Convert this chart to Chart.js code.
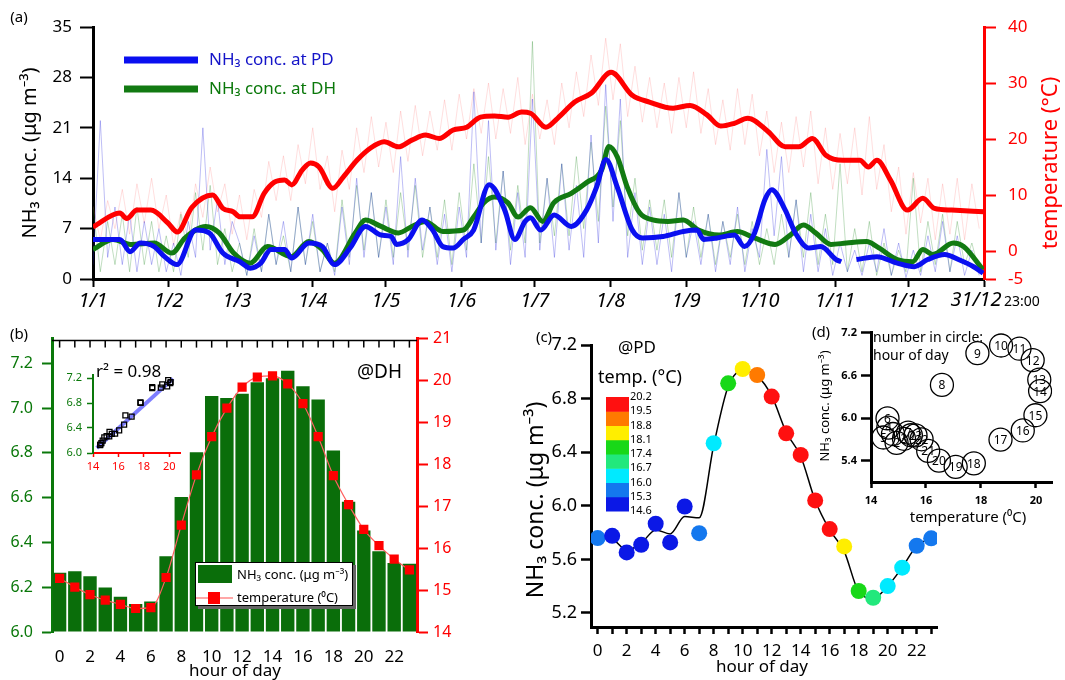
<!DOCTYPE html>
<html>
<head>
<meta charset="utf-8">
<script src="https://cdn.jsdelivr.net/npm/chart.js@4"></script>
<style>
body { margin:0; background:#fff; width:1065px; height:680px; position:relative; overflow:hidden; }
canvas { position:absolute; }
</style>
</head>
<body>
<canvas id="chA" width="1065" height="315" style="left:0;top:0"></canvas>
<canvas id="chB" width="470" height="360" style="left:0;top:320px"></canvas>
<canvas id="chI" width="140" height="115" style="left:55px;top:360px"></canvas>
<canvas id="chC" width="425" height="360" style="left:520px;top:320px"></canvas>
<canvas id="chD" width="265" height="210" style="left:800px;top:320px"></canvas>
<script>
// ---- panel (a): yearly series, x = day of year ----
var monthStart = [0, 31, 59, 90, 120, 151, 181, 212, 243, 273, 304, 334, 364.96];
var monthLabels = ['1/1','1/2','1/3','1/4','1/5','1/6','1/7','1/8','1/9','1/10','1/11','1/12','31/12'];

var tempDays = [0,11,13.8,18,23.7,30.7,34.5,40.5,49,53.2,57.4,60.2,65.2,70.1,74.3,78.5,81.4,85.6,89.1,92.6,
  98.2,102.5,108.1,113.7,119.3,125,130.6,136.2,141.8,147.5,153.1,158.7,164.4,170,175.6,179.2,185.5,190.3,197.3,204.2,
  212.2,220.9,227.9,237.6,244.6,251.5,257.1,262.7,268.2,276.6,283.5,289.1,294.7,300.2,307.2,314.1,317.6,321.1,326.6,333.6,
  339.9,344.7,351.7,364.9];
var tempSmooth = [4.3,6.8,5.8,7.3,7.3,5,3.4,7.8,10,7.6,7,6.1,6.1,10.3,12.3,12.7,11.8,14.4,15.7,15,
  11.2,13.2,16.2,18.4,19.5,18.6,19.8,20.7,20.1,21.6,22.1,23.9,24.1,23.9,24.8,24.6,22.1,23.7,26.6,28.2,
  31.9,27.8,26.6,25.5,26,24.3,22.3,22.8,23.7,21.3,18.6,18.6,20.1,17.1,16.2,16.2,15,16.2,12.7,7.3,
  9.4,7.6,7.3,7];

var pdDays = [0,11,15.2,19.4,25.1,29.3,34.4,42,47.6,53.2,60.2,64.5,68.7,72.9,78.5,81.4,88.4,94,98.9,105.3,
  111.6,118,122.2,124.3,129.2,134.8,139.1,143.3,147.5,151.7,155.9,162.3,168.6,172.8,177,179.2,183.4,188.9,195.9,202.2,
  206.3,210.1,214.7,220.9,225.1,233.5,241.8,247.4,250.1,255.7,262.7,266.8,271,275.2,278,283.5,287.7,293.3,298.1,304.4,
  306.5,309,312.7,321.1,329.4,336.4,341.9,348.9,354.5,360.7,364.6];
var pdSmooth = [5.5,5.5,3.8,5,4.5,3.1,2,6.8,6.4,3.6,2.4,1.5,2.2,4.1,4.1,2.9,5,4.5,2,4.3,
  7.3,6.1,5.9,4.8,5.5,8.2,6.8,4.5,4.3,5.5,6.8,13.1,9.6,5.5,8,8.5,6.8,8.9,7.3,9.6,
  12.8,16.6,12.8,6.8,5.7,5.9,6.6,6.8,5.5,5.7,6.1,4.5,6.4,11,12.4,9.6,6.4,4.3,4.5,2.7,
  2.4,null,2.7,3.1,2.2,1.7,2.7,3.4,2.7,1.7,0.8];

var dhDays = [0,8.2,15.4,25.1,32.3,37.7,46.2,51.7,57.6,64.3,71.5,81.2,88.4,93.9,98.9,107.4,111.6,118,125.1,130.6,
  136.1,143.3,151.7,155.9,160.1,164.4,169.9,174.1,179.2,184.2,188.8,195.9,202.2,208.4,211.3,214.7,218.8,223.9,229.3,235.5,
  241.8,248,256.4,263.9,271,279.4,285.6,291,296,302.3,308.6,316.9,321.1,329.4,335.7,339.9,344,352.4,356.6,364.5];
var dhSmooth = [4.1,5.5,4.8,5,3.6,5.7,7.3,6.4,3.6,2.2,4.5,3.1,5.2,4.1,2.2,6.4,8.2,7.3,6.4,7.3,
  8,6.6,6.8,8.6,10.6,11.4,10.6,8.6,9.9,8,10.6,11.9,13.4,15.2,18.4,17,12.8,9.2,8.2,8,
  8.2,6.8,6.1,6.6,5.7,4.8,6.1,7.5,6.4,4.8,5,5.2,4.5,2.7,2.4,4.1,3.4,5,4.5,1.3];

// hourly raw traces, one value every RAW_STEP days
var RAW_STEP = 3;
var tempRaw = [8,2,9,4,11,3,12,5,13,4, 10,1,7,2,12,6,15,7,12,3, 10,2,11,6,16,9,17,9,19,12,
  22,11,17,7,18,11,22,14,24,15, 23,14,25,16,26,17,25,18,27,18, 28,20,29,21,30,20,29,21,31,19,
  28,20,27,19,30,22,32,24,35,26, 38,27,37,24,33,23,31,22,30,21, 31,22,32,21,29,19,27,18,29,19,
  28,17,25,14,23,14,24,15,25,12, 22,11,21,12,22,10,24,11,19,7, 15,3,14,5,13,2,12,3,13,2, 12,4];
var pdRaw = [2,22,3,10,2,9,1,8,2,7, 1,5,0.5,8,3,21,4,11,2,8, 5,0.5,6,1,9,2,8,1,10,2,
  9,1,5,0.5,10,2,14,3,12,3, 10,2,17,3,14,4,10,2,9,1, 10,3,26,5,22,4,15,2,12,3,
  25,4,14,3,16,4,13,3,20,5, 27,8,25,3,12,2,10,2,9,1, 12,3,8,2,9,1,8,2,10,1,
  7,3,18,6,17,3,11,1,9,1, 7,0.5,5,1,4,0.5,5,1,7,0.5, 5,0.2,4,0.5,6,1,8,1,6,0.5, 4,0.5];
var dhRaw = [10,1,8,2,9,1,10,2,8,1, 6,1,9,3,12,4,13,2,7,1, 5,0.5,7,1,9,2,6,1,10,2,
  8,1,5,1,11,3,13,4,12,3, 11,3,12,4,13,3,10,3,11,2, 12,4,16,5,17,5,15,4,13,5,
  33,5,14,6,16,6,17,7,19,8, 24,10,22,6,14,4,11,4,11,3, 12,3,10,3,9,2,8,3,9,2,
  8,2,7,2,9,3,11,3,12,2, 9,2,16,1,7,1,8,0.5,5,0.5, 4,1,14,1,8,2,9,1,8,2, 5,1];

// ---- panel (b): diurnal cycle at DH ----
var hours = [0,1,2,3,4,5,6,7,8,9,10,11,12,13,14,15,16,17,18,19,20,21,22,23];
var dhConc = [6.265,6.271,6.249,6.199,6.158,6.125,6.136,6.338,6.603,6.803,7.054,7.045,
  7.064,7.116,7.134,7.167,7.098,7.039,6.811,6.582,6.453,6.361,6.308,6.305];
var dhTemp = [15.28,15.07,14.89,14.76,14.66,14.56,14.58,15.3,16.55,17.75,18.66,19.34,
  19.84,20.08,20.11,19.92,19.45,18.66,17.73,17.04,16.45,16.06,15.74,15.48];
var fitTemp = [14.3, 20.3];
var fitConc = [6.08, 7.19];

// ---- panels (c) and (d): diurnal cycle at PD ----
var pdHourConc = [5.759,5.776,5.652,5.709,5.866,5.727,5.995,5.796,6.467,6.914,7.021,6.976,
  6.815,6.541,6.38,6.04,5.826,5.697,5.364,5.314,5.401,5.538,5.702,5.757];
var pdHourTemp = [15.45,14.8,14.93,15.2,14.63,14.45,14.6,15.35,16.58,17.87,18.73,19.4,
  19.88,20.12,20.15,19.98,19.52,18.71,17.74,17.08,16.47,16.08,15.84,15.62];
var pdHourCurve = [5.76,5.75,5.67,5.72,5.82,5.79,5.92,5.91,6.45,6.89,7.01,6.97,
  6.82,6.55,6.37,6.04,5.82,5.66,5.36,5.31,5.4,5.54,5.7,5.76];
var cbEdges = [14.6,15.3,16.0,16.7,17.4,18.1,18.8,19.5,20.2];
var cbColors = ['#0b18e6','#1478ee','#00eaff','#22e87c','#18d818','#ffee00','#ff7a00','#ff1010'];

var FF = "'Noto Sans', 'DejaVu Sans', sans-serif";
Chart.defaults.font.family = FF;
Chart.defaults.color = '#000';

function xy(xs, ys) {
  return xs.map(function(x, i) { return {x: x, y: ys[i]}; });
}
function rawXY(vals) {
  return vals.map(function(v, i) { return {x: i * RAW_STEP, y: v}; });
}
function fixW(w) { return function(s) { s.width = w; }; }
function fixH(h) { return function(s) { s.height = h; }; }
function setTicks(list) { return function(s) { s.ticks = list.map(function(v) { return {value: v}; }); }; }
function tempColor(t) {
  for (var i = 0; i < cbColors.length; i++) if (t < cbEdges[i + 1]) return cbColors[i];
  return cbColors[cbColors.length - 1];
}
function txt(g, s, x, y, o) {
  g.save();
  g.font = o.font;
  g.fillStyle = o.color || '#000';
  g.textAlign = o.align || 'left';
  g.textBaseline = 'middle';
  g.translate(x, y);
  if (o.rot) g.rotate(o.rot);
  g.fillText(s, 0, 0);
  g.restore();
}
function line(g, x1, y1, x2, y2, col, w) {
  g.save(); g.strokeStyle = col; g.lineWidth = w;
  g.beginPath(); g.moveTo(x1, y1); g.lineTo(x2, y2); g.stroke(); g.restore();
}
var NH3 = 'NH\u2083 conc. (\u03bcg m\u207b\u00b3)';
var base = { responsive:false, animation:false, events:[], devicePixelRatio:1,
  plugins:{ legend:{display:false}, tooltip:{enabled:false} } };
function opts(extra) { return Object.assign({}, base, extra); }

// ---------- (a) ----------
var extrasA = { id:'extrasA', afterDraw: function(c) {
  var g = c.ctx;
  txt(g, '(a)', 19, 18, {font:'15px ' + FF, align:'center'});
  txt(g, NH3, 30, 153, {font:'20px ' + FF, align:'center', rot:-Math.PI / 2});
  txt(g, 'temperature (\u00b0C)', 1051, 163, {font:'22px ' + FF, align:'center', rot:-Math.PI / 2, color:'#ff0000'});
  line(g, 124, 60, 198, 60, '#0a0ff0', 7);
  line(g, 124, 89, 198, 89, '#127a12', 7);
  txt(g, 'NH\u2083 conc. at PD', 209, 60, {font:'17px ' + FF, color:'#1414c8'});
  txt(g, 'NH\u2083 conc. at DH', 209, 89, {font:'17px ' + FF, color:'#0a780a'});
  txt(g, '31/12', 976, 300, {font:'italic 20px ' + FF, align:'center'});
  txt(g, '23:00', 1004, 302, {font:'14px ' + FF});
}};

new Chart(document.getElementById('chA'), {
  type:'line',
  data:{ datasets:[
    {data: xy(pdDays, pdSmooth), borderColor:'#0a0ff0', borderWidth:5, cubicInterpolationMode:'monotone', yAxisID:'y'},
    {data: xy(dhDays, dhSmooth), borderColor:'#127a12', borderWidth:5, cubicInterpolationMode:'monotone', yAxisID:'y'},
    {data: xy(tempDays, tempSmooth), borderColor:'#ff0000', borderWidth:5, cubicInterpolationMode:'monotone', yAxisID:'y2'},
    {data: rawXY(pdRaw), borderColor:'rgba(30,30,220,0.42)', borderWidth:0.7, yAxisID:'y'},
    {data: rawXY(dhRaw), borderColor:'rgba(20,130,20,0.38)', borderWidth:0.7, yAxisID:'y'},
    {data: rawXY(tempRaw), borderColor:'rgba(255,90,90,0.28)', borderWidth:0.7, yAxisID:'y2'}
  ]},
  options: opts({
    layout:{ padding:{top:27, left:0, right:0, bottom:0} },
    elements:{ point:{radius:0} },
    scales:{
      x:{ type:'linear', min:0, max:364.96, afterFit:fixH(36), afterBuildTicks:setTicks(monthStart),
        ticks:{ autoSkip:false, maxRotation:0, padding:2, font:{size:20, style:'italic'},
          callback:function(v, i) { return i < monthLabels.length - 1 ? monthLabels[i] : ''; } },
        grid:{ drawOnChartArea:false, tickLength:8, tickWidth:2, tickColor:'#000' },
        border:{ color:'#000', width:3 } },
      y:{ position:'left', min:0, max:35, afterFit:fixW(93), afterBuildTicks:setTicks([0,7,14,21,28,35]),
        ticks:{ padding:8, font:{size:17} },
        grid:{ drawOnChartArea:false, tickLength:13, tickWidth:2, tickColor:'#000' },
        border:{ color:'#000', width:3 } },
      y2:{ position:'right', min:-5, max:40, afterFit:fixW(81), afterBuildTicks:setTicks([-5,0,10,20,30,40]),
        ticks:{ padding:12, color:'#ff0000', font:{size:17} },
        grid:{ drawOnChartArea:false, tickLength:12, tickWidth:2, tickColor:'#ff0000' },
        border:{ color:'#ff0000', width:3 } }
    }
  }),
  plugins:[extrasA]
});

// ---------- (b) ----------
var extrasB = { id:'extrasB', afterDraw: function(c) {
  var g = c.ctx, a = c.chartArea, xs = c.scales.x;
  txt(g, '(b)', 19, 15, {font:'15px ' + FF, align:'center'});
  line(g, a.left, a.top + 2, a.right, a.top + 2, '#000', 1.5);
  hours.forEach(function(h) {
    var x = xs.getPixelForValue(h);
    line(g, x, a.top + 2, x, a.top + 9, '#000', 1.5);
  });
  txt(g, '@DH', 357, 53, {font:'19px ' + FF});
  txt(g, 'r\u00b2 = 0.98', 96, 52, {font:'17px ' + FF});
  txt(g, 'hour of day', 235, 351, {font:'17px ' + FF, align:'center'});
  // legend box
  g.save();
  g.fillStyle = '#666'; g.fillRect(198, 245, 158, 44);
  g.fillStyle = '#fff'; g.fillRect(195, 242, 158, 44);
  g.strokeStyle = '#000'; g.lineWidth = 1; g.strokeRect(195.5, 242.5, 157, 43);
  g.fillStyle = '#0a6e0a'; g.fillRect(198, 245, 34, 18);
  g.restore();
  line(g, 196, 278, 233, 278, '#ff5050', 1.2);
  g.fillStyle = '#ff0000'; g.fillRect(208, 272, 12, 12);
  txt(g, 'NH\u2083 conc. (\u03bcg m\u207b\u00b3)', 237, 255, {font:'13px ' + FF});
  txt(g, 'temperature (\u2070C)', 237, 278, {font:'13px ' + FF});
}};

new Chart(document.getElementById('chB'), {
  type:'bar',
  data:{ labels: hours.map(String), datasets:[
    {type:'line', data: dhTemp, yAxisID:'yR', borderColor:'#ff6060', borderWidth:1.2,
      pointStyle:'rect', pointRadius:6.5, pointBackgroundColor:'#ff0000', pointBorderWidth:0,
      cubicInterpolationMode:'monotone'},
    {type:'bar', data: dhConc, yAxisID:'yL', base:6, backgroundColor:'#0a6e0a',
      barPercentage:0.88, categoryPercentage:1}
  ]},
  options: opts({
    layout:{ padding:{top:16, left:0, right:0, bottom:0} },
    scales:{
      x:{ afterFit:fixH(48), grid:{display:false}, border:{display:false},
        ticks:{ autoSkip:false, maxRotation:0, padding:7, font:{size:17},
          callback:function(v, i) { return i % 2 === 0 ? String(hours[i]) : ''; } } },
      yL:{ position:'left', min:6, max:7.3106, afterFit:fixW(52), afterBuildTicks:setTicks([6,6.2,6.4,6.6,6.8,7,7.2]),
        ticks:{ padding:9, color:'#0a780a', font:{size:16}, callback:function(v) { return v.toFixed(1); } },
        grid:{ drawOnChartArea:false, tickLength:10, tickWidth:2, tickColor:'#0a780a' },
        border:{ color:'#0a780a', width:3 } },
      yR:{ position:'right', min:14, max:21, afterFit:fixW(53),
        ticks:{ stepSize:1, padding:5, color:'#ff0000', font:{size:16} },
        grid:{ drawOnChartArea:false, tickLength:11, tickWidth:2, tickColor:'#ff0000' },
        border:{ color:'#ff0000', width:3 } }
    }
  }),
  plugins:[extrasB]
});

// inset of (b)
new Chart(document.getElementById('chI'), {
  type:'scatter',
  data:{ datasets:[
    {data: xy(dhTemp, dhConc), pointStyle:'rect', pointRadius:3.5, borderColor:'#000', borderWidth:1.3,
      backgroundColor:'rgba(255,255,255,0)'},
    {type:'line', data: xy(fitTemp, fitConc), borderColor:'rgba(70,70,255,0.7)', borderWidth:4, pointRadius:0}
  ]},
  options: opts({
    layout:{ padding:{top:15, left:0, right:15, bottom:0} },
    scales:{
      x:{ type:'linear', min:14, max:20.85, afterFit:fixH(22), afterBuildTicks:setTicks([14,16,18,20]),
        ticks:{ padding:3, color:'#ff0000', font:{size:11} },
        grid:{ drawOnChartArea:false, tickLength:4, tickWidth:1.5, tickColor:'#ff0000' },
        border:{ color:'#ff0000', width:2 } },
      y:{ min:6, max:7.248, afterFit:fixW(38), afterBuildTicks:setTicks([6,6.4,6.8,7.2]),
        ticks:{ padding:5, color:'#0a780a', font:{size:11}, callback:function(v) { return v.toFixed(1); } },
        grid:{ drawOnChartArea:false, tickLength:6, tickWidth:1.5, tickColor:'#0a780a' },
        border:{ color:'#0a780a', width:2 } }
    }
  })
});

// ---------- (c) ----------
var extrasC = { id:'extrasC', afterDraw: function(c) {
  var g = c.ctx;
  txt(g, '(c)', 24, 18, {font:'15px ' + FF, align:'center'});
  txt(g, NH3, 16, 180, {font:'23px ' + FF, align:'center', rot:-Math.PI / 2});
  txt(g, '@PD', 98, 28, {font:'17px ' + FF});
  txt(g, 'temp. (\u00b0C)', 78, 58, {font:'18px ' + FF});
  var top = 77, bot = 191, n = cbColors.length, hgt = (bot - top) / n;
  for (var i = 0; i < n; i++) {
    g.fillStyle = cbColors[i];
    g.fillRect(86, bot - (i + 1) * hgt, 23, hgt + 0.5);
  }
  for (var j = 0; j < cbEdges.length; j++) {
    txt(g, cbEdges[j].toFixed(1), 110, bot - j * hgt, {font:'11px ' + FF});
  }
  txt(g, 'hour of day', 242, 347, {font:'17px ' + FF, align:'center'});
}};

new Chart(document.getElementById('chC'), {
  type:'line',
  data:{ datasets:[
    {data: xy(hours, pdHourConc), showLine:false, pointRadius:8, pointBorderWidth:0,
      pointBackgroundColor: pdHourTemp.map(tempColor)},
    {data: xy(hours, pdHourCurve), borderColor:'#000', borderWidth:1.5, pointRadius:0,
      cubicInterpolationMode:'monotone'}
  ]},
  options: opts({
    layout:{ padding:{top:25, left:0, right:7, bottom:0} },
    scales:{
      x:{ type:'linear', min:-0.46, max:23.4, afterFit:fixH(53), afterBuildTicks:setTicks(hours),
        ticks:{ autoSkip:false, maxRotation:0, padding:7, font:{size:17},
          callback:function(v) { return v % 2 === 0 ? v : ''; } },
        grid:{ drawOnChartArea:false, tickLength:7, tickWidth:2.5, tickColor:'#000' },
        border:{ color:'#000', width:3 } },
      y:{ min:5.0955, max:7.2, afterFit:fixW(71), afterBuildTicks:setTicks([5.2,5.6,6,6.4,6.8,7.2]),
        ticks:{ padding:4, font:{size:18}, callback:function(v) { return v.toFixed(1); } },
        grid:{ drawOnChartArea:false, tickLength:10, tickWidth:2.5, tickColor:'#000' },
        border:{ color:'#000', width:3 } }
    }
  }),
  plugins:[extrasC]
});

// ---------- (d) ----------
var extrasD = { id:'extrasD', afterDraw: function(c) {
  var g = c.ctx, pts = c.getDatasetMeta(0).data;
  txt(g, '(d)', 21, 13, {font:'15px ' + FF, align:'center'});
  txt(g, NH3, 25, 86, {font:'13px ' + FF, align:'center', rot:-Math.PI / 2});
  txt(g, 'temperature (\u2070C)', 168, 198, {font:'15px ' + FF, align:'center'});
  txt(g, 'number in circle:', 73, 18, {font:'14px ' + FF});
  txt(g, 'hour of day', 73, 36, {font:'14px ' + FF});
  pts.forEach(function(p, i) {
    txt(g, String(hours[i]), p.x, p.y + 1, {font:'12px ' + FF, align:'center'});
  });
}};

new Chart(document.getElementById('chD'), {
  type:'scatter',
  data:{ datasets:[
    {data: xy(pdHourTemp, pdHourConc), pointRadius:11.5, borderColor:'#000', borderWidth:1.3,
      backgroundColor:'rgba(255,255,255,0)'}
  ]},
  options: opts({
    layout:{ padding:{top:12, left:0, right:12, bottom:0} },
    scales:{
      x:{ type:'linear', min:14, max:20.59, afterFit:fixH(48), afterBuildTicks:setTicks([14,16,18,20]),
        ticks:{ padding:6, font:{size:11, weight:'bold'} },
        grid:{ drawOnChartArea:false, tickLength:6, tickWidth:2.5, tickColor:'#000' },
        border:{ color:'#000', width:3 } },
      y:{ min:5.101, max:7.2, afterFit:fixW(71), afterBuildTicks:setTicks([5.4,6,6.6,7.2]),
        ticks:{ padding:4, font:{size:11, weight:'bold'}, callback:function(v) { return v.toFixed(1); } },
        grid:{ drawOnChartArea:false, tickLength:10, tickWidth:2.5, tickColor:'#000' },
        border:{ color:'#000', width:3 } }
    }
  }),
  plugins:[extrasD]
});
</script>
</body>
</html>
